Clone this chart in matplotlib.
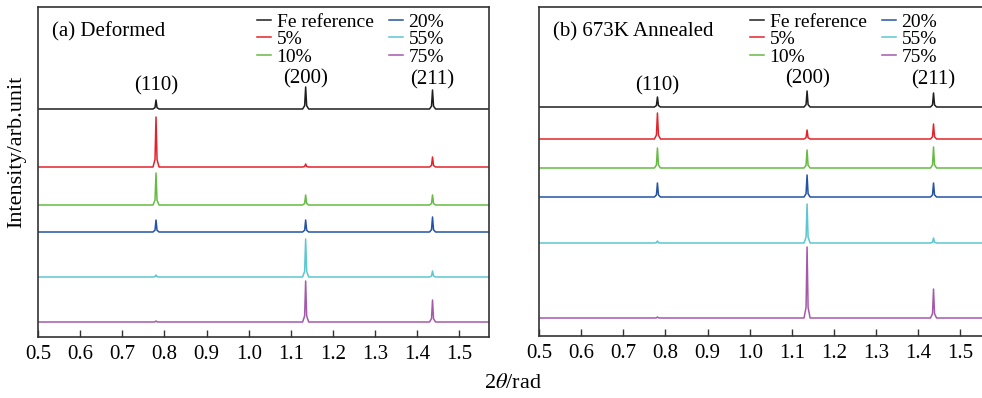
import matplotlib
matplotlib.use("Agg")
import matplotlib.pyplot as plt
from matplotlib.ticker import MultipleLocator, FormatStrFormatter

plt.rcParams['font.family'] = ['Liberation Serif', 'DejaVu Serif']
plt.rcParams['mathtext.fontset'] = 'stix'

# ---------------- data ----------------
series_labels = ["Fe reference", "5%", "10%", "20%", "55%", "75%"]
series_colors = ["#1e1e1e", "#e3232b", "#66bb44", "#2452a4", "#5cc6d2", "#a459ab"]
peak_names = ["(110)", "(200)", "(211)"]

# panel (a) Deformed
peaks_a = [0.780, 1.135, 1.436]
offsets_a = [228, 170, 132, 105, 60, 15]
heights_a = [
    [9, 22, 19],    # Fe reference
    [50, 3, 10],    # 5%
    [32, 10, 10],   # 10%
    [12, 12, 15],   # 20%
    [2, 38, 6],     # 55%
    [1, 41, 22],    # 75%
]
label_y_a = [251, 258, 257]

# panel (b) 673K Annealed
peaks_b = [0.781, 1.136, 1.436]
offsets_b = [229, 197, 168, 139, 93, 18]
heights_b = [
    [10, 16, 14],
    [26, 9, 15],
    [20, 18, 21],
    [14, 22, 14],
    [2, 39, 5],
    [1, 71, 29],
]
label_y_b = [250, 257, 256]

x_range = [0.5, 1.57]


def trace(peaks, base, heights, halfwidth):
    xs = [x_range[0]]
    ys = [base]
    for c, h in zip(peaks, heights):
        xs += [c - 3 * halfwidth, c - halfwidth, c, c + halfwidth, c + 3 * halfwidth]
        ys += [base, base + 0.15 * h, base + h, base + 0.15 * h, base]
    xs.append(x_range[1])
    ys.append(base)
    return xs, ys


fig = plt.figure(figsize=(9.82, 3.98), dpi=100)
W = 451 / 982
ax_a = fig.add_axes([38 / 982, 61 / 398, W, 330 / 398])
ax_b = fig.add_axes([539 / 982, 62 / 398, W, 329 / 398])

panels = [
    (ax_a, peaks_a, offsets_a, heights_a, label_y_a, "(a) Deformed", 0.486, 330),
    (ax_b, peaks_b, offsets_b, heights_b, label_y_b, "(b) 673K Annealed", 0.468, 329),
]

for ax, peaks, offs, hts, lab_y, title, leg_x, ytop in panels:
    for lab, col, off, h in zip(series_labels, series_colors, offs, hts):
        xs, ys = trace(peaks, off, h, 0.0024)
        ax.plot(xs, ys, color=col, lw=1.1, label=lab)
    for name, c, yy in zip(peak_names, peaks, lab_y):
        ax.text(c, yy, name, ha='center', va='center', fontsize=15)
    ax.text(0.03, 0.925, title, transform=ax.transAxes, ha='left', va='center', fontsize=15)
    ax.set_xlim(*x_range)
    ax.set_ylim(0, ytop)
    ax.xaxis.set_major_locator(MultipleLocator(0.1))
    ax.xaxis.set_major_formatter(FormatStrFormatter('%.1f'))
    ax.tick_params(axis='x', direction='in', length=5, width=1.0, labelsize=15,
                   pad=6, color='#333333')
    ax.set_yticks([])
    for s in ax.spines.values():
        s.set_color('#333333')
        s.set_linewidth(1.2)
    ax.legend(ncol=2, loc='upper left', bbox_to_anchor=(leg_x, 0.982),
              frameon=False, fontsize=14, handlelength=0.7, handletextpad=0.3,
              columnspacing=0.8, labelspacing=0.0, borderpad=0, borderaxespad=0)

ax_a.set_ylabel("Intensity/arb.unit", fontsize=16)
ax_a.yaxis.set_label_coords(-0.025, 0.56)
fig.text(513 / 982, 15 / 398, r"2$\it{\theta}$/rad", ha='center', va='center', fontsize=16)

fig.savefig("out.png", dpi=100)
